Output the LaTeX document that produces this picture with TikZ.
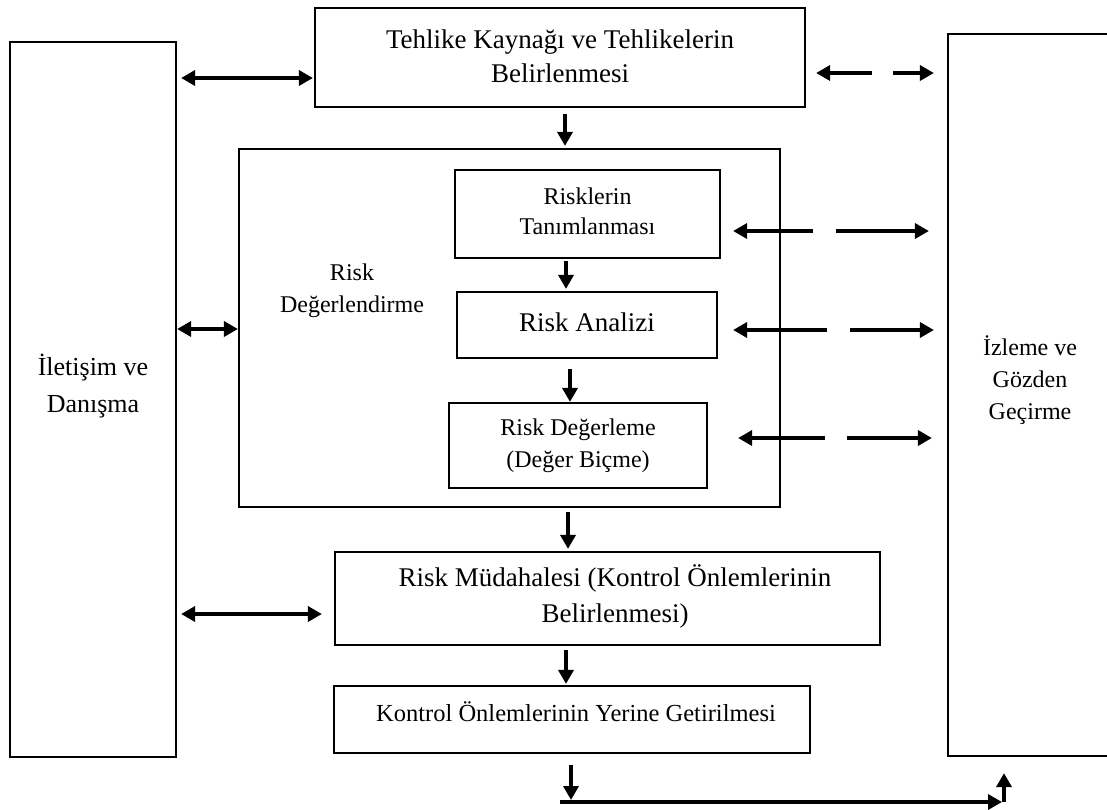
\documentclass[tikz,border=0pt]{standalone}
\usepackage{fontspec}
\setmainfont{Liberation Serif}
\usetikzlibrary{arrows.meta}
\begin{document}
\begin{tikzpicture}[x=1pt,y=-1pt,
  box/.style={draw, line width=2.2pt, inner sep=0pt},
  txt/.style={align=center, inner sep=0pt},
  big/.style={font=\fontsize{27}{34}\selectfont},
  small/.style={font=\fontsize{24}{32}\selectfont},
  tip/.tip={Triangle[length=14pt,width=15pt]},
  conn/.style={line width=3.4pt, -tip},
  both/.style={line width=3.4pt, tip-tip},
]
\useasboundingbox (0,0) rectangle (1107,809);
\fill[white] (0,0) rectangle (1107,809);
\clip (0,0) rectangle (1107,809);

% side columns
\node[box, minimum width=166pt, minimum height=715pt] (ile) at (93,399.5) {};
\node[txt, font=\fontsize{26}{37}\selectfont] (ileT) at (93,386) {İletişim ve\\Danışma};
\node[box, minimum width=177pt, minimum height=722pt] (izl) at (1036.5,395) {};
\node[txt, small] (izlT) at (1030,380) {İzleme ve\\Gözden\\Geçirme};

% main flow
\node[box, minimum width=490pt, minimum height=99pt] (top) at (560,57.5) {};
\node[txt, big] (topT) at (560,56) {Tehlike Kaynağı ve Tehlikelerin\\Belirlenmesi};

\node[box, minimum width=541pt, minimum height=358pt] (deg) at (509.5,328) {};
\node[txt, small] (degT) at (352,291) {Risk\\Değerlendirme};

\node[box, minimum width=265pt, minimum height=88pt] (tan) at (587.5,214) {};
\node[txt, font=\fontsize{24}{30}\selectfont] (tanT) at (587.5,211) {Risklerin\\Tanımlanması};

\node[box, minimum width=260pt, minimum height=66pt] (ana) at (587,325) {};
\node[txt, big] (anaT) at (587,322) {Risk Analizi};

\node[box, minimum width=258pt, minimum height=85pt] (dgm) at (578,445.5) {};
\node[txt, small] (dgmT) at (578,446) {Risk Değerleme\\(Değer Biçme)};

\node[box, minimum width=545pt, minimum height=93pt] (mud) at (607.5,598.5) {};
\node[txt, font=\fontsize{27}{36}\selectfont] (mudT) at (615,596) {Risk Müdahalesi (Kontrol Önlemlerinin\\Belirlenmesi)};

\node[box, minimum width=476pt, minimum height=67pt] (kon) at (572,719.5) {};
\node[txt, font=\fontsize{24.5}{30}\selectfont] (konT) at (576,712) {Kontrol Önlemlerinin Yerine Getirilmesi};

\coordinate (bl) at (560,802);
\coordinate (drop) at (571,802);
\coordinate (corner) at (1004,802);

% links to the communication column
\draw[both, shorten <=4pt, shorten >=1pt] (ile.east |- 0,78) -- (top.west |- 0,78);
\draw[both] (ile.east |- 0,329) -- (deg.west |- 0,329);
\draw[both, shorten <=4pt, shorten >=12pt] (ile.east |- 0,614) -- (mud.west |- 0,614);

% links to the monitoring column
\draw[both, shorten <=10pt, shorten >=13pt, dash pattern=on 43pt off 21pt on 200pt] (top.east |- 0,73) -- (izl.west |- 0,73);
\draw[both, shorten <=12pt, shorten >=18pt, dash pattern=on 67pt off 23pt on 200pt] (tan.east |- 0,231) -- (izl.west |- 0,231);
\draw[both, shorten <=15pt, shorten >=13pt, dash pattern=on 81pt off 23pt on 200pt] (ana.east |- 0,330) -- (izl.west |- 0,330);
\draw[both, shorten <=30pt, shorten >=15pt, dash pattern=on 74pt off 22pt on 200pt] (dgm.east |- 0,438) -- (izl.west |- 0,438);

% downward flow
\draw[conn, shorten <=6pt, shorten >=2pt] (top.south -| 565,0) -- (deg.north -| 565,0);
\draw[conn, shorten <=2pt, shorten >=2pt] (tan.south -| 566,0) -- (ana.north -| 566,0);
\draw[conn, shorten <=10pt] (ana.south -| 570,0) -- (dgm.north -| 570,0);
\draw[conn, shorten <=4pt, shorten >=2pt] (deg.south -| 568,0) -- (mud.north -| 568,0);
\draw[conn, shorten <=4pt, shorten >=1pt] (mud.south -| 566,0) -- (kon.north -| 566,0);
\draw[conn, shorten <=11pt, shorten >=2pt] (kon.south -| drop) -- (drop);

% return path to monitoring
\draw[conn, shorten >=2pt] (bl) -- (corner);
\draw[conn, shorten >=16pt] (corner) -- (izl.south -| corner);
\end{tikzpicture}
\end{document}
